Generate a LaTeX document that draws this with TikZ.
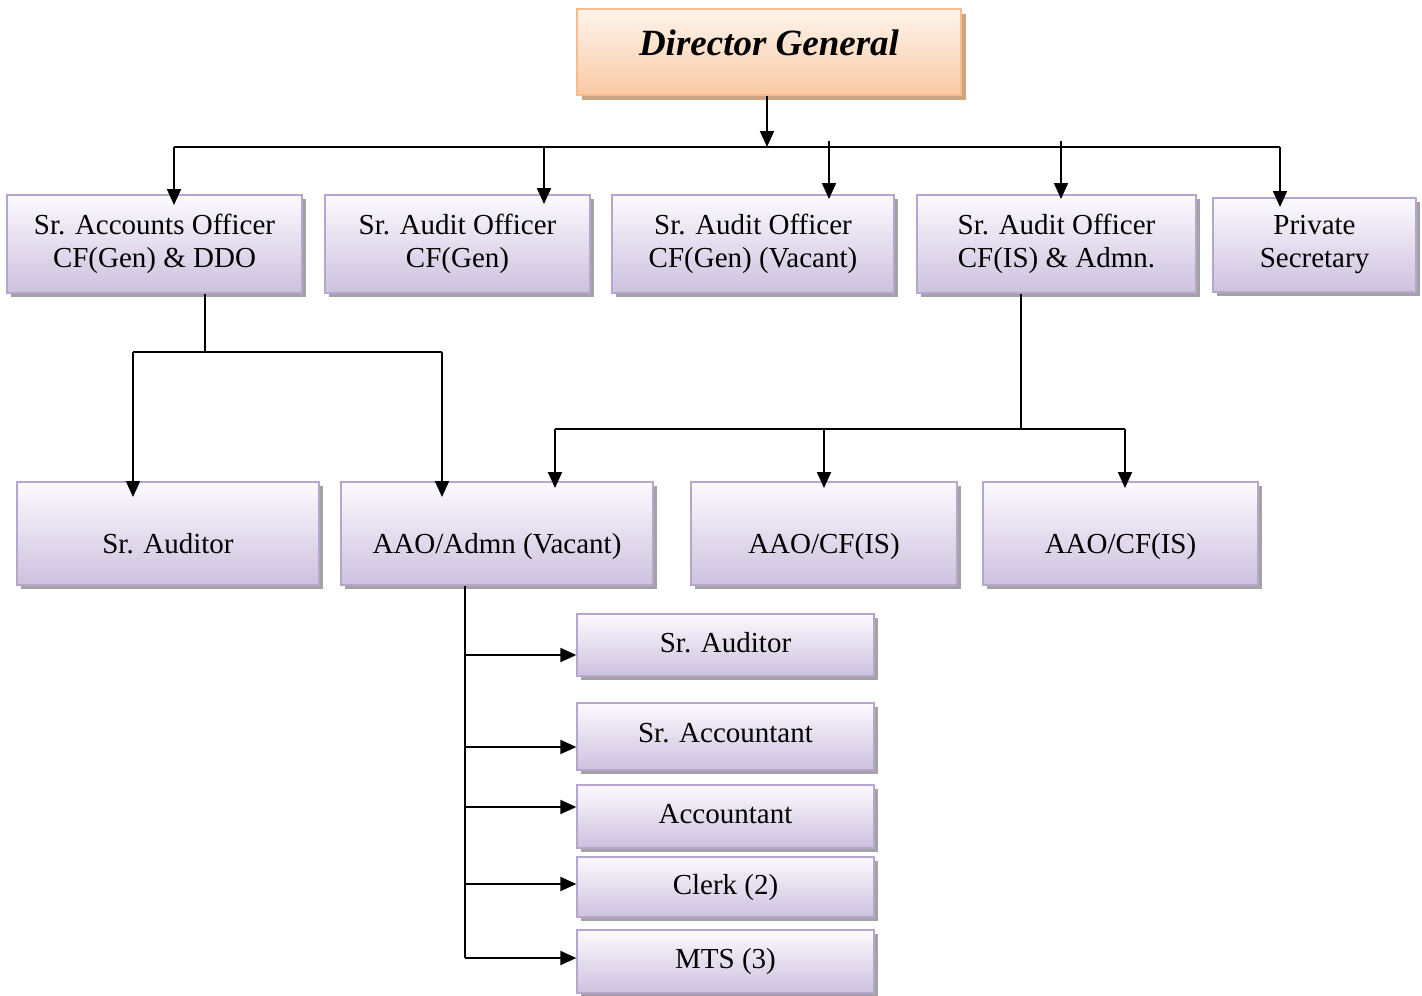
\documentclass[tikz,border=0pt]{standalone}
\usepackage{fontspec}
\setmainfont{Liberation Serif}
\usetikzlibrary{arrows.meta,shadows}

\definecolor{lavtop}{RGB}{252,250,254}
\definecolor{lavbot}{RGB}{205,193,222}
\definecolor{lavline}{RGB}{182,166,206}
\definecolor{orgtop}{RGB}{254,244,236}
\definecolor{orgbot}{RGB}{249,202,164}
\definecolor{orgline}{RGB}{246,188,142}
\definecolor{orgshade}{RGB}{205,165,128}

\tikzset{
  post/.style={draw=lavline, line width=1.3pt, top color=lavtop, bottom color=lavbot,
    inner sep=0pt, align=center, font=\fontsize{29}{33}\selectfont,
    drop shadow={shadow xshift=4pt, shadow yshift=-4pt, fill=black!45, opacity=0.8}},
  unit/.style={post, text height=45pt, text depth=6pt},
  staff/.style={post, minimum width=297pt, text height=20pt, text depth=6pt},
  head/.style={draw=orgline, line width=1.3pt, top color=orgtop, bottom color=orgbot,
    inner sep=0pt, font=\fontsize{37}{42}\selectfont\bfseries\itshape,
    text height=20pt, text depth=14pt,
    drop shadow={shadow xshift=5pt, shadow yshift=-5pt, fill=orgshade, opacity=1}},
  arr/.style={line width=1.9pt, -{Triangle[length=16pt,width=14pt]}},
  ln/.style={line width=1.9pt}
}

\begin{document}
\begin{tikzpicture}[x=1pt, y=-1pt]
\useasboundingbox (0,0) rectangle (1422,996);

% top
\node[head, minimum width=384pt, minimum height=86pt] (dg) at (769,52) {Director General};

% first row
\node[post, minimum width=295pt, minimum height=98pt] (b1) at (154.5,244) {Sr. Accounts Officer\\CF(Gen) \& DDO};
\node[post, minimum width=265pt, minimum height=98pt] (b2) at (457.5,244) {Sr. Audit Officer\\CF(Gen)};
\node[post, minimum width=282pt, minimum height=98pt] (b3) at (753,244) {Sr. Audit Officer\\CF(Gen) (Vacant)};
\node[post, minimum width=279pt, minimum height=98pt] (b4) at (1056.5,244) {Sr. Audit Officer\\CF(IS) \& Admn.};
\node[post, minimum width=203pt, minimum height=94pt] (b5) at (1314.5,245) {Private\\Secretary};

% second row
\node[unit, minimum width=302pt, minimum height=103pt] (c1) at (168,533.5) {Sr. Auditor};
\node[unit, minimum width=312pt, minimum height=103pt] (c2) at (497,533.5) {AAO/Admn (Vacant)};
\node[unit, minimum width=266pt, minimum height=103pt] (c3) at (824,533.5) {AAO/CF(IS)};
\node[unit, minimum width=275pt, minimum height=103pt] (c4) at (1120.5,533.5) {AAO/CF(IS)};

% staff under AAO/Admn
\node[staff, minimum height=62pt] (d1) at (725.5,645) {Sr. Auditor};
\node[staff, minimum height=67pt, text depth=9pt] (d2) at (725.5,736.5) {Sr. Accountant};
\node[staff, minimum height=63pt] (d3) at (725.5,816.5) {Accountant};
\node[staff, minimum height=60pt] (d4) at (725.5,887) {Clerk (2)};
\node[staff, minimum height=63pt, text depth=7pt] (d5) at (725.5,961.5) {MTS (3)};

% bus points
\coordinate (bus1) at (767,147);
\coordinate (stub) at (0,141);
\coordinate (t1) at (174,205);
\coordinate (t2) at (544,204);
\coordinate (t3) at (829,199);
\coordinate (t4) at (1061,199);
\coordinate (t5) at (1280,207);

\draw[arr] (dg.south -| bus1) -- (bus1);
\draw[ln] (bus1 -| t1) -- (bus1 -| t5);
\draw[arr] (bus1 -| t1) -- (t1);
\draw[arr] (bus1 -| t2) -- (t2);
\draw[arr] (stub -| t3) -- (t3);
\draw[arr] (stub -| t4) -- (t4);
\draw[arr] (bus1 -| t5) -- (t5);

% under Sr. Accounts Officer
\coordinate (bus2) at (205,352);
\coordinate (u1) at (133,497);
\coordinate (u2) at (442,497);
\draw[ln] (b1.south -| bus2) -- (bus2);
\draw[ln] (bus2 -| u1) -- (bus2 -| u2);
\draw[arr] (bus2 -| u1) -- (u1);
\draw[arr] (bus2 -| u2) -- (u2);

% under Sr. Audit Officer CF(IS)
\coordinate (bus3) at (1021,429);
\coordinate (v1) at (555,488);
\coordinate (v2) at (824,488);
\coordinate (v3) at (1125,488);
\draw[ln] (b4.south -| bus3) -- (bus3);
\draw[ln] (bus3 -| v1) -- (bus3 -| v3);
\draw[arr] (bus3 -| v1) -- (v1);
\draw[arr] (bus3 -| v2) -- (v2);
\draw[arr] (bus3 -| v3) -- (v3);

% staff line
\coordinate (trunk) at (465,958);
\draw[ln] (c2.south -| trunk) -- (trunk);
\draw[arr] (trunk |- 0,655) -- (d1.west |- 0,655);
\draw[arr] (trunk |- 0,747) -- (d2.west |- 0,747);
\draw[arr] (trunk |- 0,807) -- (d3.west |- 0,807);
\draw[arr] (trunk |- 0,884) -- (d4.west |- 0,884);
\draw[arr] (trunk) -- (d5.west |- trunk);

\end{tikzpicture}
\end{document}
